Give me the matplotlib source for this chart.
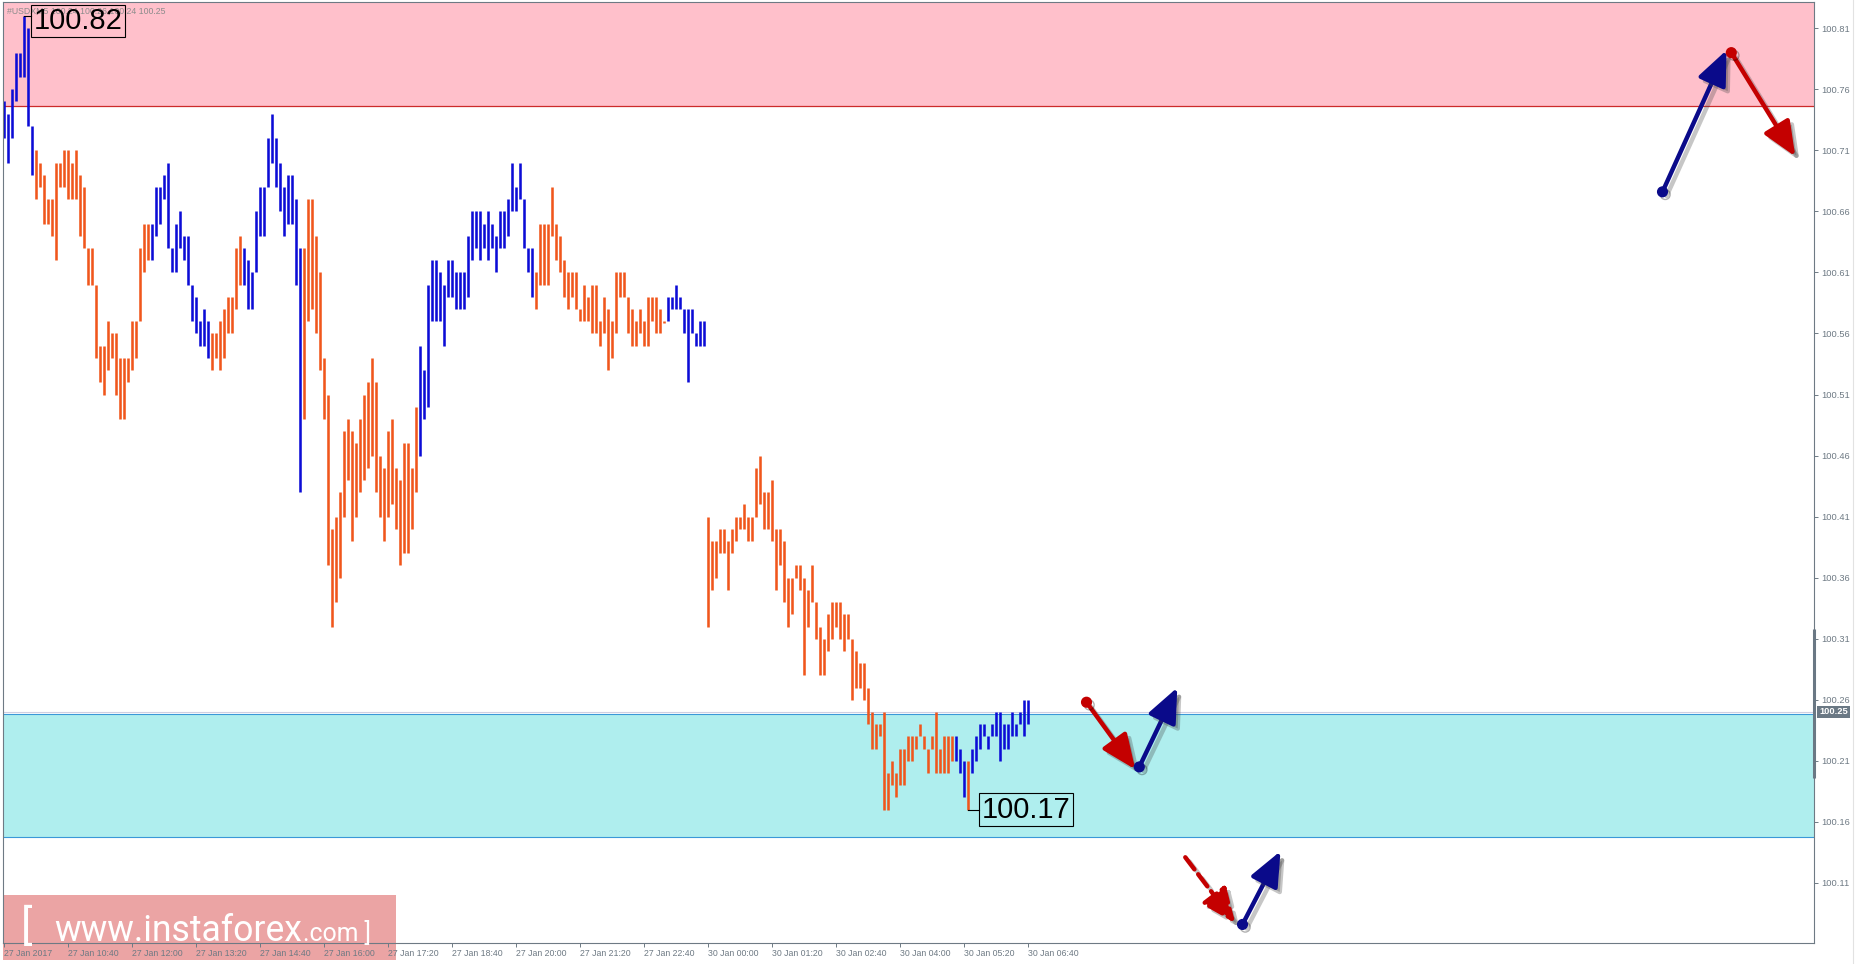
import matplotlib
matplotlib.use("Agg")
import matplotlib.pyplot as plt
import matplotlib.patheffects as pe
from matplotlib import font_manager
from matplotlib.patches import Rectangle, FancyArrowPatch
from matplotlib.transforms import blended_transform_factory

W, H, DPI = 1856, 964, 100

# USDX M5 bars, high / low for every bar
highs = [
    100.75, 100.74, 100.76, 100.79, 100.79, 100.82, 100.81, 100.73, 100.71, 100.70,
    100.69, 100.67, 100.67, 100.70, 100.70, 100.71, 100.71, 100.70, 100.71, 100.69,
    100.68, 100.63, 100.63, 100.60, 100.55, 100.55, 100.57, 100.56, 100.56, 100.54,
    100.54, 100.54, 100.57, 100.57, 100.63, 100.65, 100.65, 100.65, 100.68, 100.68,
    100.69, 100.70, 100.63, 100.65, 100.66, 100.64, 100.64, 100.60, 100.59, 100.57,
    100.58, 100.57, 100.56, 100.56, 100.57, 100.58, 100.59, 100.59, 100.63, 100.64,
    100.63, 100.62, 100.61, 100.66, 100.68, 100.68, 100.72, 100.74, 100.72, 100.70,
    100.68, 100.69, 100.69, 100.67, 100.63, 100.63, 100.67, 100.67, 100.64, 100.61,
    100.54, 100.51, 100.40, 100.41, 100.43, 100.48, 100.49, 100.48, 100.47, 100.49,
    100.51, 100.52, 100.54, 100.52, 100.46, 100.45, 100.48, 100.49, 100.45, 100.44,
    100.47, 100.47, 100.45, 100.50, 100.55, 100.53, 100.60, 100.62, 100.62, 100.61,
    100.60, 100.62, 100.62, 100.61, 100.61, 100.61, 100.64, 100.66, 100.66, 100.66,
    100.65, 100.66, 100.65, 100.64, 100.66, 100.66, 100.67, 100.70, 100.68, 100.70,
    100.67, 100.63, 100.63, 100.61, 100.65, 100.65, 100.65, 100.68, 100.65, 100.64,
    100.62, 100.61, 100.61, 100.61, 100.58, 100.60, 100.59, 100.60, 100.60, 100.57,
    100.59, 100.58, 100.57, 100.61, 100.61, 100.61, 100.59, 100.58, 100.57, 100.58,
    100.57, 100.59, 100.59, 100.59, 100.58, 100.57, 100.59, 100.59, 100.60, 100.59,
    100.58, 100.58, 100.58, 100.56, 100.57, 100.57, 100.41, 100.39, 100.39, 100.40,
    100.40, 100.39, 100.40, 100.41, 100.41, 100.42, 100.41, 100.41, 100.45, 100.46,
    100.43, 100.43, 100.44, 100.40, 100.40, 100.39, 100.36, 100.36, 100.37, 100.37,
    100.36, 100.35, 100.37, 100.34, 100.32, 100.31, 100.33, 100.34, 100.34, 100.34,
    100.33, 100.33, 100.31, 100.30, 100.29, 100.29, 100.27, 100.25, 100.24, 100.24,
    100.25, 100.20, 100.21, 100.20, 100.22, 100.22, 100.23, 100.23, 100.23, 100.24,
    100.23, 100.22, 100.23, 100.25, 100.22, 100.23, 100.23, 100.23, 100.23, 100.22,
    100.21, 100.21, 100.22, 100.23, 100.24, 100.24, 100.23, 100.24, 100.25, 100.25,
    100.24, 100.24, 100.25, 100.24, 100.25, 100.26, 100.26,
]
lows = [
    100.72, 100.70, 100.72, 100.75, 100.77, 100.77, 100.73, 100.69, 100.67, 100.68,
    100.65, 100.65, 100.64, 100.62, 100.68, 100.68, 100.67, 100.67, 100.67, 100.64,
    100.63, 100.60, 100.60, 100.54, 100.52, 100.51, 100.53, 100.54, 100.51, 100.49,
    100.49, 100.52, 100.53, 100.54, 100.57, 100.61, 100.62, 100.62, 100.64, 100.65,
    100.67, 100.63, 100.61, 100.61, 100.63, 100.62, 100.60, 100.57, 100.56, 100.55,
    100.55, 100.54, 100.53, 100.54, 100.53, 100.54, 100.56, 100.56, 100.58, 100.60,
    100.60, 100.58, 100.58, 100.61, 100.64, 100.64, 100.68, 100.70, 100.68, 100.66,
    100.64, 100.65, 100.65, 100.60, 100.43, 100.49, 100.57, 100.58, 100.56, 100.53,
    100.49, 100.37, 100.32, 100.34, 100.36, 100.41, 100.44, 100.39, 100.41, 100.43,
    100.44, 100.45, 100.46, 100.43, 100.41, 100.39, 100.41, 100.42, 100.40, 100.37,
    100.38, 100.38, 100.40, 100.43, 100.46, 100.49, 100.50, 100.57, 100.57, 100.57,
    100.55, 100.59, 100.59, 100.58, 100.58, 100.58, 100.59, 100.62, 100.63, 100.62,
    100.63, 100.62, 100.63, 100.61, 100.63, 100.63, 100.64, 100.66, 100.66, 100.67,
    100.63, 100.61, 100.59, 100.58, 100.60, 100.60, 100.60, 100.64, 100.62, 100.61,
    100.59, 100.58, 100.59, 100.58, 100.57, 100.57, 100.57, 100.56, 100.56, 100.55,
    100.56, 100.53, 100.54, 100.56, 100.59, 100.59, 100.56, 100.55, 100.55, 100.56,
    100.55, 100.55, 100.57, 100.56, 100.56, 100.57, 100.57, 100.58, 100.58, 100.58,
    100.56, 100.52, 100.56, 100.55, 100.55, 100.55, 100.32, 100.35, 100.36, 100.38,
    100.38, 100.35, 100.38, 100.39, 100.40, 100.40, 100.39, 100.39, 100.41, 100.42,
    100.40, 100.40, 100.39, 100.35, 100.37, 100.34, 100.32, 100.33, 100.36, 100.35,
    100.28, 100.32, 100.34, 100.31, 100.28, 100.28, 100.30, 100.31, 100.32, 100.31,
    100.30, 100.31, 100.26, 100.27, 100.27, 100.26, 100.24, 100.22, 100.22, 100.23,
    100.17, 100.17, 100.19, 100.18, 100.19, 100.19, 100.21, 100.21, 100.22, 100.23,
    100.22, 100.20, 100.22, 100.20, 100.20, 100.20, 100.20, 100.21, 100.21, 100.20,
    100.18, 100.17, 100.20, 100.21, 100.22, 100.23, 100.22, 100.23, 100.23, 100.21,
    100.22, 100.22, 100.23, 100.23, 100.24, 100.23, 100.24,
]
# zigzag legs drawn in blue (first bar, last bar); the rest is orange
up_legs = [(0, 7), (37, 51), (60, 74), (104, 132), (166, 175), (238, 240), (242, 256)]

time_labels = ["27 Jan 2017", "27 Jan 10:40", "27 Jan 12:00", "27 Jan 13:20", "27 Jan 14:40",
               "27 Jan 16:00", "27 Jan 17:20", "27 Jan 18:40", "27 Jan 20:00", "27 Jan 21:20",
               "27 Jan 22:40", "30 Jan 00:00", "30 Jan 01:20", "30 Jan 02:40", "30 Jan 04:00",
               "30 Jan 05:20", "30 Jan 06:40"]
bars_per_label = 16
price_ticks = [100.11, 100.16, 100.21, 100.26, 100.31, 100.36, 100.41, 100.46,
               100.51, 100.56, 100.61, 100.66, 100.71, 100.76, 100.81]

last_price = 100.25
header = "#USDXM5 100.24 100.26 100.24 100.25"
resist_zone = (100.746, 100.90)
support_zone = (100.148, 100.248)
marked_high = (5, 100.82)
marked_low = (241, 100.17)

# forecast arrows: (x0, y0, x1, y1) in bar / price units
arrows_red = [(270.7, 100.258, 282.9, 100.203), (431.9, 100.790, 447.9, 100.705)]
arrows_blue = [(283.9, 100.205, 293.4, 100.270), (309.7, 100.076, 319.2, 100.136),
               (414.7, 100.676, 430.7, 100.792)]
arrows_red_dashed = [(295.4, 100.131, 307.9, 100.077)]


def pick_font(names):
    for n in names:
        try:
            font_manager.findfont(n, fallback_to_default=False)
            return n
        except ValueError:
            pass
    return "DejaVu Sans"


ui_font = pick_font(["Liberation Sans", "DejaVu Sans"])
narrow_font = pick_font(["Liberation Sans Narrow", "DejaVu Sans Condensed", "Roboto",
                         "Liberation Sans"])

ORANGE = "#f0561c"
BLUE = "#0c0cd6"
GREY = "#6e7a84"

fig = plt.figure(figsize=(W / DPI, H / DPI), dpi=DPI)
fig.patch.set_facecolor("white")
ax = fig.add_axes([3 / W, 21 / H, 1811 / W, 941 / H])
ax.patch.set_visible(False)

ax.set_xlim(-0.175, -0.175 + 1811 / 4)
ax.set_ylim(100.0608, 100.0608 + 941 / 1221)

# zones
ax.axhspan(*resist_zone, color="#ffc0cb", lw=0, zorder=0.5)
ax.axhline(resist_zone[0], color="#cc2a2a", lw=0.9, zorder=0.6)
ax.axhspan(*support_zone, color="#afeeee", lw=0, zorder=0.5)
for yv in support_zone:
    ax.axhline(yv, color="#3a98d8", lw=0.8, zorder=0.6)
ax.axhline(last_price, color="#cfcfe2", lw=0.8, zorder=0.7)

# bars
colors = [ORANGE] * len(highs)
for a, b in up_legs:
    for i in range(a, b + 1):
        colors[i] = BLUE
xs = list(range(len(highs)))
lo_draw = [l - 0.0012 if abs(h - l) < 1e-9 else l for h, l in zip(highs, lows)]
ax.vlines(xs, lo_draw, highs, colors=colors, linewidth=1.85, zorder=2)

# high / low labels
for (bi, price), dx, dy in [(marked_high, 10, -5), (marked_low, 14, 0)]:
    ax.plot([bi, bi + (dx - 3) / 4], [price, price], color="black", lw=0.8, zorder=3)
    ax.annotate(f"{price:.2f}", xy=(bi, price), xytext=(dx, dy), textcoords="offset pixels",
                ha="left", va="center", fontsize=21, family=ui_font, color="black", zorder=4,
                bbox=dict(boxstyle="square,pad=0.08", fc="none", ec="black", lw=0.8))

ax.text(4 / 1811, 1 - 9 / 941, header, transform=ax.transAxes, fontsize=6.3,
        color="#8c8c8c", family=ui_font, va="center", ha="left", zorder=1)

# arrows
shadow = [pe.SimplePatchShadow(offset=(3, -3), shadow_rgbFace="#444444", alpha=0.3),
          pe.SimpleLineShadow(offset=(3, -3), shadow_color="#444444", alpha=0.3), pe.Normal()]


def draw_arrow(x0, y0, x1, y1, color, dashed=False, dot=True):
    ls = (0, (3.4, 1.4)) if dashed else "-"
    arr = FancyArrowPatch((x0, y0), (x1, y1), arrowstyle="-|>,head_length=1.05,head_width=0.45",
                          mutation_scale=20, color=color, lw=3.2, linestyle=ls,
                          shrinkA=0, shrinkB=0, zorder=5, path_effects=shadow)
    ax.add_patch(arr)
    if dot:
        ax.plot(x0, y0, "o", ms=7, color=color, zorder=6,
                path_effects=[pe.SimpleLineShadow(offset=(2, -2), alpha=0.3), pe.Normal()])


for a in arrows_red:
    draw_arrow(*a, color="#c40000")
for a in arrows_blue:
    draw_arrow(*a, color="#0a0a8a")
for a in arrows_red_dashed:
    draw_arrow(*a, color="#c40000", dashed=True, dot=False)

# axes styling
for sp in ax.spines.values():
    sp.set_color(GREY)
    sp.set_linewidth(0.8)
ax.yaxis.tick_right()
ax.set_yticks(price_ticks)
ax.set_yticklabels([f"{p:.2f}" for p in price_ticks])
ax.set_xticks([i * bars_per_label for i in range(len(time_labels))])
ax.set_xticklabels(time_labels, ha="left")
ax.tick_params(axis="both", direction="out", length=3, width=0.7, color=GREY,
               labelcolor=GREY)
ax.tick_params(axis="x", pad=1.5, labelsize=6.3)
ax.tick_params(axis="y", pad=2, labelsize=6.7)
for lab in ax.get_xticklabels() + ax.get_yticklabels():
    lab.set_family(ui_font)

# current price marker on the scale
tr = blended_transform_factory(ax.transAxes, ax.transData)
ax.text(1.0 + 5 / 1811, last_price, f"{last_price:.2f}", transform=tr, ha="left", va="center",
        fontsize=6.7, color="white", fontweight="bold", family=ui_font, zorder=7, clip_on=False,
        bbox=dict(boxstyle="square,pad=0.2", fc="#6a7884", ec="none"))
ax.plot([1.0, 1.0], [100.196, 100.318], transform=tr, color="#6a7884", lw=2.2,
        clip_on=False, zorder=7, solid_capstyle="butt")

# right margin divider
fig.add_artist(plt.Line2D([1853 / W, 1853 / W], [0, 1], color="#e2e2e2", lw=0.8))

# watermark
fig.patches.append(Rectangle((3 / W, 4 / H), 393 / W, 65 / H, transform=fig.transFigure,
                             facecolor="#eba4a4", edgecolor="none", zorder=-1))
wm_open = fig.text(21 / W, 25 / H, "[", fontsize=31, color="white", family=narrow_font,
                   va="baseline", zorder=8)
wm_main = fig.text(54 / W, 23 / H, "www.instaforex", fontsize=29, color="white",
                   family=narrow_font, va="baseline", zorder=8)
fig.canvas.draw()
rend = fig.canvas.get_renderer()
wm_width = wm_main.get_window_extent(rend).width
wm_main.set_fontsize(29 * 248 / wm_width)
fig.canvas.draw()
main_box = wm_main.get_window_extent(rend)
fig.text((main_box.x1 + 1) / W, 23 / H, ".com ]", fontsize=wm_main.get_fontsize() * 0.7,
         color="white", family=narrow_font, va="baseline", zorder=8)

fig.savefig("out.png", dpi=DPI, facecolor="white")
